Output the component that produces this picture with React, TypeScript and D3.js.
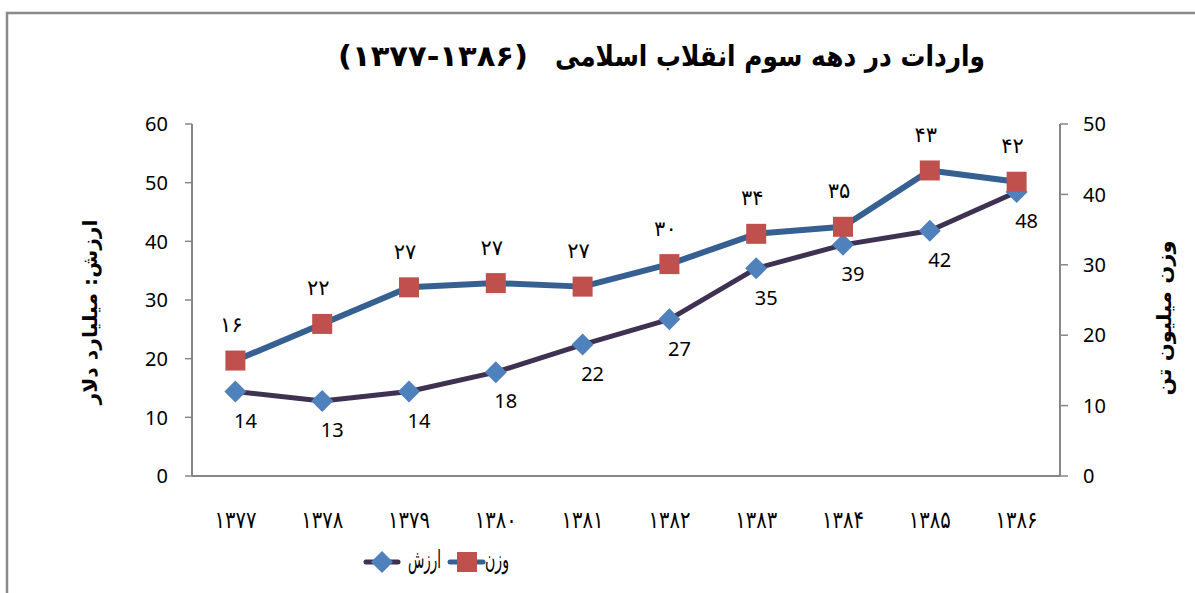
import * as d3 from 'd3';

// categories (Persian years) and series values
const years = ['۱۳۷۷', '۱۳۷۸', '۱۳۷۹', '۱۳۸۰', '۱۳۸۱', '۱۳۸۲', '۱۳۸۳', '۱۳۸۴', '۱۳۸۵', '۱۳۸۶'];
const valueBn = [14.4, 12.8, 14.4, 17.7, 22.4, 26.7, 35.4, 39.4, 41.8, 48.4]; // ارزش، میلیارد دلار
const weightMt = [16.4, 21.6, 26.8, 27.4, 26.9, 30.1, 34.4, 35.4, 43.4, 41.8]; // وزن، میلیون تن
const leftTicks = [0, 10, 20, 30, 40, 50, 60];
const rightTicks = [0, 10, 20, 30, 40, 50];

const W = 1195;
const H = 593;
const plotL = 192;
const plotR = 1060;
const plotT = 124;
const plotB = 476;

const faFont = '"DejaVu Sans", sans-serif';
const latFont = '"Noto Sans", "Open Sans", sans-serif';
const axisGray = '#878787';
const valueLine = '#3F3151';
const valueMark = '#4F81BD';
const weightLine = '#376092';
const weightMark = '#C0504D';

const toFa = (n: number) => String(Math.round(n)).replace(/\d/g, (d) => '۰۱۲۳۴۵۶۷۸۹'[+d]);

function Diamond({ cx, cy, r }: { cx: number; cy: number; r: number }) {
  return <path d={`M${cx},${cy - r}L${cx + r},${cy}L${cx},${cy + r}L${cx - r},${cy}Z`} fill={valueMark} />;
}

export default function App() {
  const x = d3.scaleBand<string>().domain(years).range([plotL, plotR]).paddingInner(0).paddingOuter(0);
  const cx = (i: number) => (x(years[i]) as number) + x.bandwidth() / 2;
  const yL = d3.scaleLinear().domain([0, 60]).range([plotB, plotT]);
  const yR = d3.scaleLinear().domain([0, 50]).range([plotB, plotT]);

  const valuePath = d3.line<number>().x((_, i) => cx(i)).y((d) => yL(d))(valueBn) || '';
  const weightPath = d3.line<number>().x((_, i) => cx(i)).y((d) => yR(d))(weightMt) || '';

  return (
    <svg width={W} height={H} viewBox={`0 0 ${W} ${H}`} style={{ position: 'absolute', left: 0, top: 0, background: '#fff' }}>
      {/* chart frame, clipped on the right and bottom in the original */}
      <path d={`M7,${H + 5}V13H${W + 5}`} fill="none" stroke="#8a8a8a" strokeWidth={2.5} />

      {/* title: in rtl text, "start" is the right edge */}
      <text x={985} y={66} textAnchor="start" direction="rtl" fontFamily={faFont} fontWeight="bold" fontSize={29}
        textLength={430} lengthAdjust="spacingAndGlyphs">واردات در دهه سوم انقلاب اسلامی</text>
      <text x={338} y={66} textAnchor="start" fontFamily={faFont} fontWeight="bold" fontSize={29}
        textLength={190} lengthAdjust="spacingAndGlyphs">(۱۳۷۷-۱۳۸۶)</text>

      {/* left axis */}
      <line x1={plotL} x2={plotL} y1={plotT} y2={plotB} stroke={axisGray} strokeWidth={2} />
      {leftTicks.map((t) => (
        <g key={'l' + t}>
          <line x1={plotL - 7} x2={plotL} y1={yL(t)} y2={yL(t)} stroke={axisGray} strokeWidth={1.5} />
          <text x={168} y={yL(t)} dy="0.36em" textAnchor="end" fontFamily={latFont} fontSize={20} fill="#000">{t}</text>
        </g>
      ))}
      <text transform={`translate(97,312) rotate(-90)`} textAnchor="middle" direction="rtl" fontFamily={faFont}
        fontWeight="bold" fontSize={20} textLength={185} lengthAdjust="spacingAndGlyphs">ارزش: میلیارد دلار</text>

      {/* right axis */}
      <line x1={plotR} x2={plotR} y1={plotT} y2={plotB} stroke={axisGray} strokeWidth={2} />
      {rightTicks.map((t) => (
        <g key={'r' + t}>
          <line x1={plotR} x2={plotR + 8} y1={yR(t)} y2={yR(t)} stroke={axisGray} strokeWidth={1.5} />
          <text x={1083} y={yR(t)} dy="0.36em" textAnchor="start" fontFamily={latFont} fontSize={20} fill="#000">{t}</text>
        </g>
      ))}
      <text transform={`translate(1171,318) rotate(-90)`} textAnchor="middle" direction="rtl" fontFamily={faFont}
        fontWeight="bold" fontSize={20} textLength={155} lengthAdjust="spacingAndGlyphs">وزن میلیون تن</text>

      {/* bottom axis */}
      <line x1={plotL} x2={plotR} y1={plotB} y2={plotB} stroke={axisGray} strokeWidth={2} />
      {years.map((yr, i) => (
        <text key={yr} x={cx(i)} y={528} textAnchor="middle" fontFamily={faFont} fontSize={24} fill="#000"
          textLength={42} lengthAdjust="spacingAndGlyphs">{yr}</text>
      ))}

      {/* value series (left axis) */}
      <path d={valuePath} fill="none" stroke={valueLine} strokeWidth={5} strokeLinejoin="round" />
      {valueBn.map((v, i) => (
        <Diamond key={'d' + i} cx={cx(i)} cy={yL(v)} r={11} />
      ))}

      {/* weight series (right axis) */}
      <path d={weightPath} fill="none" stroke={weightLine} strokeWidth={6} strokeLinejoin="round" />
      {weightMt.map((v, i) => (
        <rect key={'s' + i} x={cx(i) - 10} y={yR(v) - 10} width={20} height={20} fill={weightMark} />
      ))}

      {/* data labels */}
      {valueBn.map((v, i) => (
        <text key={'vl' + i} x={cx(i) + 10} y={yL(v) + 29} dy="0.36em" textAnchor="middle" fontFamily={latFont}
          fontSize={20} fill="#000">{Math.round(v)}</text>
      ))}
      {weightMt.map((v, i) => (
        <text key={'wl' + i} x={cx(i) - 4} y={yR(v) - 36} dy="0.36em" textAnchor="middle" fontFamily={faFont}
          fontSize={21} letterSpacing={5} fill="#000">{toFa(v)}</text>
      ))}

      {/* legend */}
      <g>
        <line x1={366} x2={398} y1={562} y2={562} stroke={valueLine} strokeWidth={5} strokeLinecap="round" />
        <Diamond cx={382} cy={562} r={11} />
        <text x={441} y={559} dy="0.36em" textAnchor="start" direction="rtl" fontFamily={faFont} fontSize={25}
          textLength={33} lengthAdjust="spacingAndGlyphs">ارزش</text>
        <line x1={450} x2={483} y1={562} y2={562} stroke={weightLine} strokeWidth={5} strokeLinecap="round" />
        <rect x={457} y={552} width={20} height={20} fill={weightMark} />
        <text x={509} y={559} dy="0.36em" textAnchor="start" direction="rtl" fontFamily={faFont} fontSize={25}
          textLength={24} lengthAdjust="spacingAndGlyphs">وزن</text>
      </g>
    </svg>
  );
}
